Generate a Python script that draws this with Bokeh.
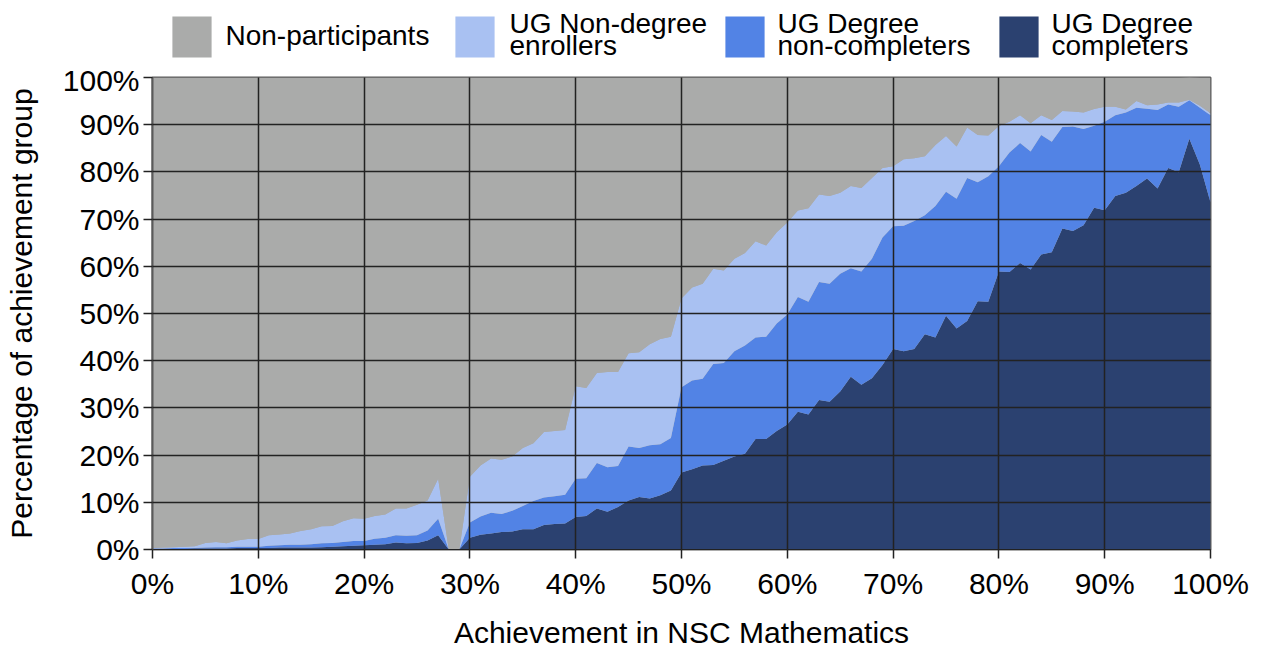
from bokeh.plotting import figure
from bokeh.layouts import column
from bokeh.models import (ColumnDataSource, Legend, LegendItem, Label,
                          PrintfTickFormatter, FixedTicker, Range1d)
from bokeh.embed import file_html
from bokeh.resources import INLINE

achievement = list(range(0, 101))

completers = [
    0.1, 0.1, 0.1, 0.1, 0.2, 0.2, 0.2, 0.2, 0.3, 0.3,
    0.3, 0.3, 0.4, 0.4, 0.4, 0.4, 0.5, 0.6, 0.7, 0.8,
    0.9, 1.0, 1.1, 1.5, 1.3, 1.4, 1.9, 3.0, 0.0, 0.0,
    2.5, 3.1, 3.4, 3.7, 3.8, 4.3, 4.3, 5.2, 5.4, 5.5,
    6.9, 7.1, 8.7, 8.0, 9.0, 10.4, 11.1, 10.8, 11.5, 12.5,
    16.3, 17.0, 17.8, 17.9, 18.8, 19.7, 20.3, 23.4, 23.4, 25.1,
    26.5, 29.2, 28.6, 31.7, 31.3, 33.5, 36.6, 34.9, 36.3, 39.1,
    42.5, 42.0, 42.5, 45.6, 44.9, 49.5, 46.8, 48.4, 52.6, 52.5,
    58.9, 58.8, 60.7, 59.3, 62.5, 63.0, 68.0, 67.5, 68.7, 72.4,
    71.9, 74.9, 75.6, 77.0, 78.6, 76.5, 80.8, 79.9, 87.0, 81.5,
    73.5,
]

non_completers = [
    0.1, 0.1, 0.2, 0.2, 0.1, 0.2, 0.3, 0.3, 0.3, 0.3,
    0.3, 0.5, 0.5, 0.6, 0.6, 0.7, 0.8, 0.8, 0.9, 1.0,
    0.9, 1.3, 1.4, 1.5, 1.6, 1.6, 2.1, 3.5, 0.0, 0.0,
    3.2, 3.9, 4.4, 3.8, 4.4, 4.9, 6.0, 5.8, 5.9, 6.1,
    8.1, 8.0, 9.6, 9.4, 8.7, 11.4, 10.4, 11.3, 10.8, 11.1,
    18.1, 18.8, 18.4, 21.4, 20.7, 22.3, 22.9, 21.5, 21.7, 22.8,
    23.3, 24.3, 23.9, 25.0, 25.0, 24.9, 23.0, 24.0, 25.3, 27.0,
    26.0, 26.6, 27.1, 25.2, 27.9, 26.3, 27.5, 30.3, 25.2, 26.6,
    22.3, 25.3, 25.4, 25.0, 25.3, 23.4, 21.5, 22.1, 20.4, 17.4,
    18.7, 17.1, 17.0, 16.6, 14.8, 16.6, 13.5, 13.9, 8.2, 12.1,
    18.5,
]

non_degree = [
    0.1, 0.2, 0.2, 0.3, 0.4, 1.0, 1.1, 0.8, 1.3, 1.6,
    1.6, 2.2, 2.3, 2.4, 2.9, 3.2, 3.6, 3.6, 4.4, 4.8,
    4.7, 4.8, 4.9, 5.7, 5.8, 6.5, 6.4, 8.5, 0.0, 0.0,
    9.7, 10.8, 11.5, 11.5, 11.5, 12.3, 12.2, 13.9, 13.8, 13.7,
    19.6, 19.1, 19.1, 20.2, 19.9, 19.8, 20.3, 21.4, 22.3, 21.5,
    18.8, 19.7, 20.1, 20.2, 19.6, 19.6, 19.6, 20.4, 19.3, 19.3,
    19.5, 18.3, 19.8, 18.5, 18.6, 17.2, 17.4, 17.7, 17.1, 14.7,
    12.7, 14.1, 13.3, 12.5, 12.9, 11.8, 11.1, 10.7, 10.0, 8.6,
    8.5, 6.5, 5.9, 6.0, 4.2, 4.6, 3.4, 3.2, 3.5, 3.5,
    3.2, 1.8, 0.6, 1.4, 0.7, 1.2, 0.4, 0.9, 0.1, 0.4,
    0.4,
]

non_participants = [
    99.7, 99.6, 99.5, 99.4, 99.3, 98.6, 98.4, 98.7, 98.1, 97.8,
    97.8, 97.0, 96.8, 96.6, 96.1, 95.7, 95.1, 95.0, 94.0, 93.4,
    93.5, 92.9, 92.6, 91.3, 91.3, 90.5, 89.6, 85.0, 100.0, 100.0,
    84.6, 82.2, 80.7, 81.0, 80.3, 78.5, 77.5, 75.1, 74.9, 74.7,
    65.4, 65.8, 62.6, 62.4, 62.4, 58.4, 58.2, 56.5, 55.4, 54.9,
    46.8, 44.5, 43.7, 40.5, 40.9, 38.4, 37.2, 34.7, 35.6, 32.8,
    30.7, 28.2, 27.7, 24.8, 25.1, 24.4, 23.0, 23.4, 21.3, 19.2,
    18.8, 17.3, 17.1, 16.7, 14.3, 12.4, 14.6, 10.6, 12.2, 12.3,
    10.3, 9.4, 8.0, 9.7, 8.0, 9.0, 7.1, 7.2, 7.4, 6.7,
    6.2, 6.2, 6.8, 5.0, 5.9, 5.7, 5.3, 5.3, 4.8, 6.0,
    7.6,
]

# legend text lines, in stack order (bottom -> top)
series_lines = [["UG Degree", "completers"],
                ["UG Degree", "non-completers"],
                ["UG Non-degree", "enrollers"],
                ["Non-participants"]]
series_colors = ["#2B4170", "#5283E5", "#A9C1F2", "#AAABAA"]
tick_values = list(range(0, 101, 10))
stackers = ["c", "nc", "nd", "np"]

source = ColumnDataSource(dict(x=achievement, c=completers, nc=non_completers,
                               nd=non_degree, np=non_participants))

W = 1258
FRAME_L, FRAME_R = 152, 1210
LEG_H = 63

# ---- legend strip: its frame uses page pixel coordinates (y downwards) ----
lg = figure(width=W, height=LEG_H, output_backend="svg", toolbar_location=None,
            x_range=Range1d(FRAME_L, FRAME_R), y_range=Range1d(LEG_H, 0),
            x_axis_location=None, y_axis_location=None,
            min_border_left=FRAME_L, min_border_right=W - FRAME_R,
            min_border_top=0, min_border_bottom=0)
lg.grid.visible = False
lg.outline_line_color = None
lg_renderers = lg.varea_stack(stackers=stackers, x="x", color=series_colors, source=source)

# swatch left edges and text left edges, legend order (top series first)
swatch_left = [172, 455, 725, 999]
text_left = [225, 509, 777, 1051]
order = [3, 2, 1, 0]
GW, GH = 49, 51  # area swatches are drawn at 80% of the glyph box
for k, i in enumerate(order):
    leg = Legend(items=[LegendItem(label=" ", renderers=[lg_renderers[i]])],
                 location=(swatch_left[k] - 0.1 * GW - FRAME_L, 1),
                 glyph_width=GW, glyph_height=GH, label_standoff=0,
                 label_text_font_size="1px", label_width=1, label_height=1,
                 border_line_alpha=0, background_fill_alpha=0, padding=0, margin=0)
    lg.add_layout(leg, "center")
    lines = series_lines[i]
    baselines = [35] if len(lines) == 1 else [23, 45]
    for txt, yb in zip(lines, baselines):
        lg.add_layout(Label(x=text_left[k], y=yb, text=txt, text_baseline="alphabetic",
                            text_align="left", text_font="Liberation Sans",
                            text_font_size="28px", text_color="#000000"))

# ---- main chart ----
p = figure(width=W, height=651 - LEG_H, output_backend="svg", toolbar_location=None,
           x_range=Range1d(0, 100), y_range=Range1d(0, 100),
           min_border_left=FRAME_L, min_border_right=W - FRAME_R,
           min_border_top=77 - LEG_H, min_border_bottom=98)

p.varea_stack(stackers=stackers, x="x", color=series_colors, source=source)

p.xaxis.ticker = FixedTicker(ticks=tick_values)
p.yaxis.ticker = FixedTicker(ticks=tick_values)
p.xaxis.formatter = PrintfTickFormatter(format="%d%%")
p.yaxis.formatter = PrintfTickFormatter(format="%d%%")
p.xaxis.axis_label = "Achievement in NSC Mathematics"
p.yaxis.axis_label = "Percentage of achievement group"
for ax in (p.xaxis, p.yaxis):
    ax.axis_label_text_font = "Liberation Sans"
    ax.axis_label_text_font_size = "30px"
    ax.axis_label_text_font_style = "normal"
    ax.major_label_text_font = "Liberation Sans"
    ax.major_label_text_font_size = "30px"
    ax.major_label_text_color = "#000000"
    ax.axis_label_text_color = "#000000"
    ax.minor_tick_line_color = None
    ax.major_tick_in = 0
    ax.major_tick_out = 9
    ax.major_tick_line_color = "#222222"
    ax.major_tick_line_width = 1.5
p.xaxis.major_label_standoff = 8
p.yaxis.major_label_standoff = 4
p.xaxis.axis_label_standoff = 13
p.yaxis.axis_label_standoff = 22
p.xaxis.axis_line_color = "#222222"
p.yaxis.axis_line_color = "#5a5a5a"
p.yaxis.axis_line_width = 2

p.xgrid.ticker = FixedTicker(ticks=tick_values)
p.ygrid.ticker = FixedTicker(ticks=tick_values)
for g in (p.xgrid, p.ygrid):
    g.level = "overlay"
    g.grid_line_color = "#222222"
    g.grid_line_width = 1.5
    g.grid_line_alpha = 1.0

p.outline_line_color = "#5a5a5a"
p.outline_line_width = 2
p.background_fill_color = "#AAABAA"

layout = column(lg, p, spacing=0)
open("out.html", "w").write(file_html(layout, INLINE))
